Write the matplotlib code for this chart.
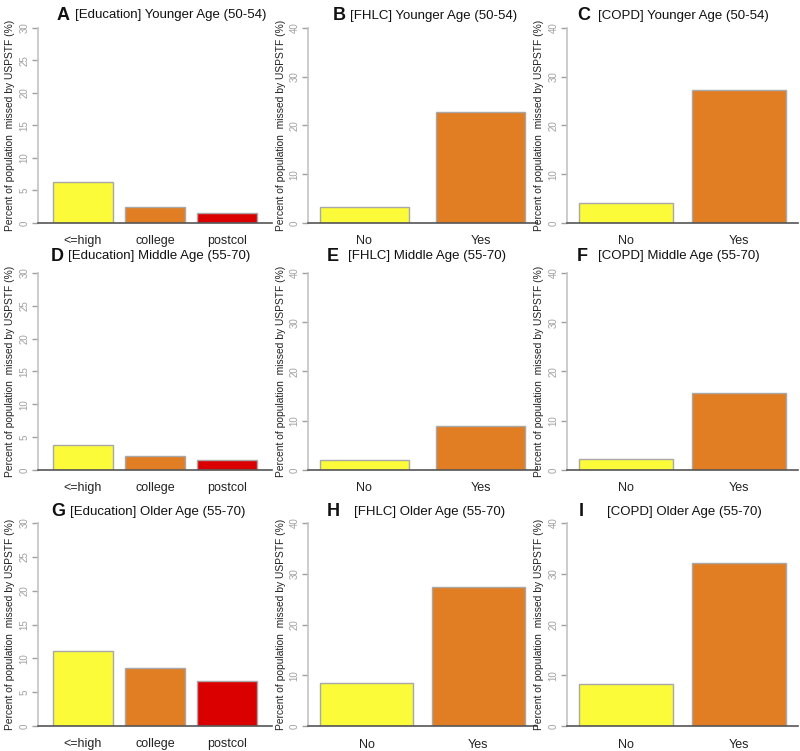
import matplotlib.pyplot as plt

plt.rcParams['font.family'] = ['Liberation Sans', 'DejaVu Sans']

# categories
edu_cats = ['<=high', 'college', 'postcol']
yn_cats = ['No', 'Yes']

# values (percent missed by USPSTF)
edu_young = [6.3, 2.4, 1.5]
edu_middle = [3.8, 2.1, 1.45]
edu_older = [11.1, 8.6, 6.6]
fhlc_young = [3.3, 22.8]
fhlc_middle = [2.1, 9.0]
fhlc_older = [8.5, 27.4]
copd_young = [4.0, 27.2]
copd_middle = [2.3, 15.7]
copd_older = [8.2, 32.2]

edu_colors = ['#FBFB3A', '#E17D22', '#DA0000']
yn_colors = ['#FBFB3A', '#E17D22']

letters = ['A', 'B', 'C', 'D', 'E', 'F', 'G', 'H', 'I']
titles = ['[Education] Younger Age (50-54)', '[FHLC] Younger Age (50-54)', '[COPD] Younger Age (50-54)',
          '[Education] Middle Age (55-70)', '[FHLC] Middle Age (55-70)', '[COPD] Middle Age (55-70)',
          '[Education] Older Age (55-70)', '[FHLC] Older Age (55-70)', '[COPD] Older Age (55-70)']

W, H = 800, 751
fig = plt.figure(figsize=(W / 100, H / 100), dpi=100)

# axes placement in pixels: (left, right) per column, (top, bottom) per row
cols = [(38, 272), (308, 537), (567, 798)]
rows = [(28, 223), (273, 470), (523, 726)]

# letter x, text x, title y in pixels
title_pos = [(63, 75, 15), (339, 350, 16), (584, 598, 16),
             (57, 68, 256), (333, 348, 256), (582, 598, 256),
             (58, 70, 512), (333, 354, 512), (581, 607, 512)]

panels = [
    (edu_cats, edu_young, edu_colors, 30, 5, 0.2),
    (yn_cats, fhlc_young, yn_colors, 40, 10, 0.3),
    (yn_cats, copd_young, yn_colors, 40, 10, 0.2),
    (edu_cats, edu_middle, edu_colors, 30, 5, 0.2),
    (yn_cats, fhlc_middle, yn_colors, 40, 10, 0.3),
    (yn_cats, copd_middle, yn_colors, 40, 10, 0.2),
    (edu_cats, edu_older, edu_colors, 30, 5, 0.2),
    (yn_cats, fhlc_older, yn_colors, 40, 10, 0.2),
    (yn_cats, copd_older, yn_colors, 40, 10, 0.2),
]

for k, (cats, vals, colors, ymax, step, space) in enumerate(panels):
    r, c = divmod(k, 3)
    x0, x1 = cols[c]
    y0, y1 = rows[r]
    ax = fig.add_axes([x0 / W, 1 - y1 / H, (x1 - x0) / W, (y1 - y0) / H])

    pos = [i * (1 + space) for i in range(len(cats))]
    ax.bar(pos, vals, width=1.0, color=colors, edgecolor='#a8a8a8', linewidth=1.0)

    right_edge = pos[-1] + 0.5
    pad = 0.25 if len(cats) == 3 else 0.13
    ax.set_xlim(-0.5 - pad, right_edge + pad)
    ax.set_ylim(0, ymax)

    for s in ['top', 'right']:
        ax.spines[s].set_visible(False)
    ax.spines['left'].set_color('#c4c4c4')
    ax.spines['left'].set_linewidth(1.2)
    ax.spines['bottom'].set_color('#555555')
    ax.spines['bottom'].set_linewidth(1.2)

    ax.set_yticks(range(0, ymax + 1, step))
    ax.tick_params(axis='y', colors='#a0a0a0', labelsize=7, length=4, width=1, pad=2,
                   labelrotation=90)
    for lab in ax.get_yticklabels():
        lab.set_va('center')
    ax.set_xticks(pos)
    ax.set_xticklabels(cats)
    ax.tick_params(axis='x', length=0, labelsize=9, pad=9, colors='#222222')

    ax.set_ylabel('Percent of population  missed by USPSTF (%)', fontsize=7.4,
                  color='#222222', labelpad=3)

    lx, tx, ty = title_pos[k]
    fig.text(lx / W, 1 - ty / H, letters[k], fontsize=13, fontweight='bold',
             ha='center', va='center', color='#111111')
    fig.text(tx / W, 1 - ty / H, titles[k], fontsize=9.5, ha='left', va='center',
             color='#111111')

fig.savefig('out.png', dpi=100)
